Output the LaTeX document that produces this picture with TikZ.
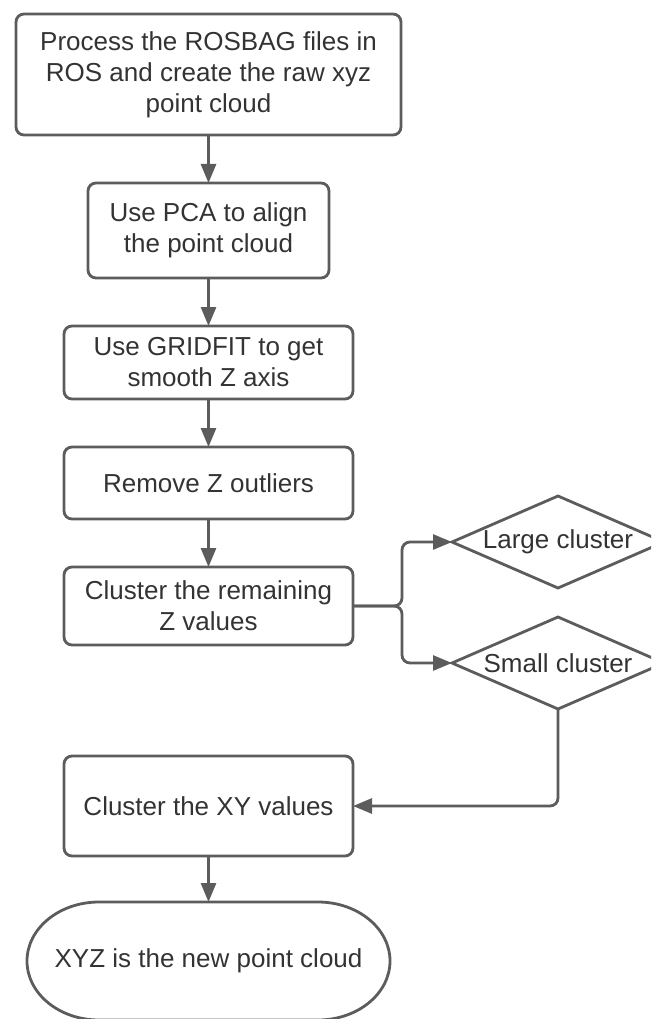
\documentclass[tikz,border=0pt]{standalone}
\usepackage{fontspec}
\setmainfont{Liberation Sans}
\usetikzlibrary{arrows.meta, positioning, shapes.geometric, calc}
\definecolor{edgegray}{RGB}{92, 92, 92}
\definecolor{textgray}{RGB}{51, 51, 51}

\begin{document}
\begin{tikzpicture}[
    x=1pt, y=-1pt,
    node distance=48pt,
    every node/.style={font=\fontsize{26}{31}\selectfont, text=textgray},
    box/.style={rectangle, draw=edgegray, line width=2.8pt, rounded corners=8pt, minimum width=289pt, align=center, inner sep=0pt, outer sep=0pt},
    choice/.style={diamond, draw=edgegray, line width=2.8pt, minimum width=212pt, minimum height=92pt, shape aspect=2.3, inner sep=0pt, outer sep=0pt},
    term/.style={rectangle, minimum width=363pt, minimum height=118pt, align=center, inner sep=0pt, outer sep=0pt},
    arr/.style={-{Triangle[length=19pt, width=15pt]}, line width=2.8pt, draw=edgegray}
]
    \clip (0,0) rectangle (651,1019);

    % main column
    \node[box, minimum width=385pt, minimum height=121pt] (rosbag) at (208.5,74.5) {Process the ROSBAG files in\\ROS and create the raw xyz\\point cloud};
    \node[box, minimum width=241pt, minimum height=95pt, below=of rosbag] (pca) {Use PCA to align\\the point cloud};
    \node[box, minimum height=73pt, below=of pca] (gridfit) {Use GRIDFIT to get\\smooth Z axis};
    \node[box, minimum height=72pt, below=of gridfit] (outliers) {Remove Z outliers};
    \node[box, minimum height=78pt, below=of outliers] (cluz) {Cluster the remaining\\Z values};
    \node[box, minimum height=100pt, below=111pt of cluz] (cluxy) {Cluster the XY values};
    \node[term, below=46pt of cluxy] (result) {XYZ is the new point cloud};

    % terminator outline, flattened ends
    \draw[edgegray, line width=2.8pt] ([xshift=72pt]result.north west) -- ([xshift=-72pt]result.north east)
        arc[start angle=90, end angle=-90, x radius=72pt, y radius=59pt]
        -- ([xshift=72pt]result.south west)
        arc[start angle=270, end angle=90, x radius=72pt, y radius=59pt] -- cycle;

    % decisions on the right
    \node[choice, right=99pt of cluz, yshift=64pt] (large) {Large cluster};
    \node[choice, below=29pt of large] (small) {Small cluster};

    \coordinate (fork) at ([xshift=49pt]cluz.east);

    \draw[arr] (rosbag) -- (pca);
    \draw[arr] (pca) -- (gridfit);
    \draw[arr] (gridfit) -- (outliers);
    \draw[arr] (outliers) -- (cluz);
    \draw[arr, rounded corners=8pt] (cluz.east) -- (fork) |- (large.west);
    \draw[arr, rounded corners=8pt] (cluz.east) -- (fork) |- (small.west);
    \draw[arr, rounded corners=8pt] (small.south) |- (cluxy.east);
    \draw[arr] (cluxy) -- (result);
\end{tikzpicture}
\end{document}
